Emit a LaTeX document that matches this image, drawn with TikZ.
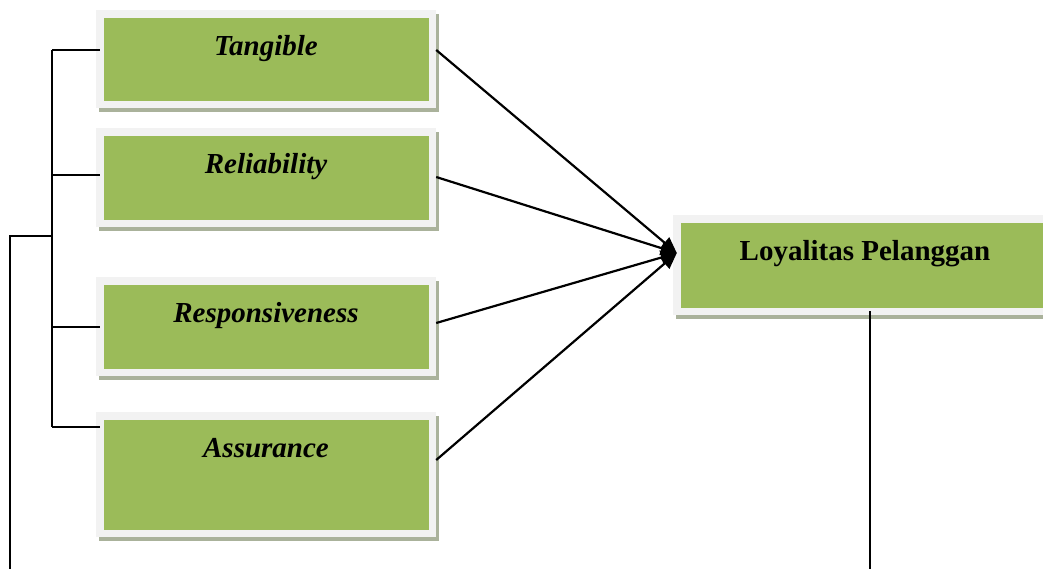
\documentclass[tikz,border=0pt]{standalone}
\usepackage{fontspec}
\setmainfont{Liberation Serif}
\usetikzlibrary{arrows.meta}
\definecolor{frame}{HTML}{F2F2F2}
\definecolor{leaf}{HTML}{9BBB59}
\definecolor{shadowc}{HTML}{AAB29B}
\begin{document}
\begin{tikzpicture}[x=1pt,y=-1pt,
  box/.style={fill=frame, draw=none, inner sep=0pt, minimum width=340pt,
    preaction={fill=shadowc, transform canvas={shift={(3pt,-4pt)}}},
    path picture={\fill[leaf]
      ([shift={(7.5pt,7.5pt)}]path picture bounding box.south west) rectangle
      ([shift={(-7pt,-7.5pt)}]path picture bounding box.north east);}},
  title/.style={anchor=base, yshift=-46pt, inner sep=0pt,
    font=\fontsize{29}{33}\selectfont\bfseries},
  wire/.style={line width=2.2pt, black},
  arrow/.style={wire, -{Triangle[length=16pt,width=14pt]}}]
\useasboundingbox (0,0) rectangle (1043,568);
\clip (0,0) rectangle (1043,568);

% dimension boxes
\node[box, minimum height=98pt] (T) at (266,59)
  {}; \node[title] (Tt) at (T.north) {\itshape Tangible};
\node[box, minimum height=99pt] (R) at (266,177.5)
  {}; \node[title] (Rt) at (R.north) {\itshape Reliability};
\node[box, minimum height=99pt] (P) at (266,326.5)
  {}; \node[title] (Pt) at (P.north) {\itshape Responsiveness};
\node[box, minimum height=125pt] (A) at (266,474.5)
  {}; \node[title] (At) at (A.north) {\itshape Assurance};

% outcome box
\node[box, minimum width=384pt, minimum height=100pt] (L) at (865,265) {};
\node[title] (Lt) at (L.north) {Loyalitas Pelanggan};

% bracket joining the dimensions
\coordinate (bT) at (52,50);
\coordinate (bR) at (52,175);
\coordinate (bP) at (52,327);
\coordinate (bA) at (52,427);
\coordinate (bJ) at (52,236);
\coordinate (bL) at (10,236);
\coordinate (bEnd) at (10,580);
\draw[wire] (bT) -- (bA);
\draw[wire] (bT) -- ([xshift=4pt]bT -| T.west);
\draw[wire] (bR) -- ([xshift=4pt]bR -| R.west);
\draw[wire] (bP) -- ([xshift=4pt]bP -| P.west);
\draw[wire] (bA) -- ([xshift=4pt]bA -| A.west);
\draw[wire] (bJ) -- (bL) -- (bEnd);

% arrows into the outcome
\coordinate (tip) at ([shift={(4,-12)}]L.west);
\draw[arrow] (T.east |- 0,50) -- (tip);
\draw[arrow] (R.east |- 0,177) -- (tip);
\draw[arrow] (P.east |- 0,323) -- (tip);
\draw[arrow] (A.east |- 0,460) -- (tip);

% line leaving the outcome
\coordinate (lOut) at ([xshift=5pt,yshift=4pt]L.south);
\coordinate (lEnd) at (870,580);
\draw[wire] (lOut) -- (lEnd);
\end{tikzpicture}
\end{document}
